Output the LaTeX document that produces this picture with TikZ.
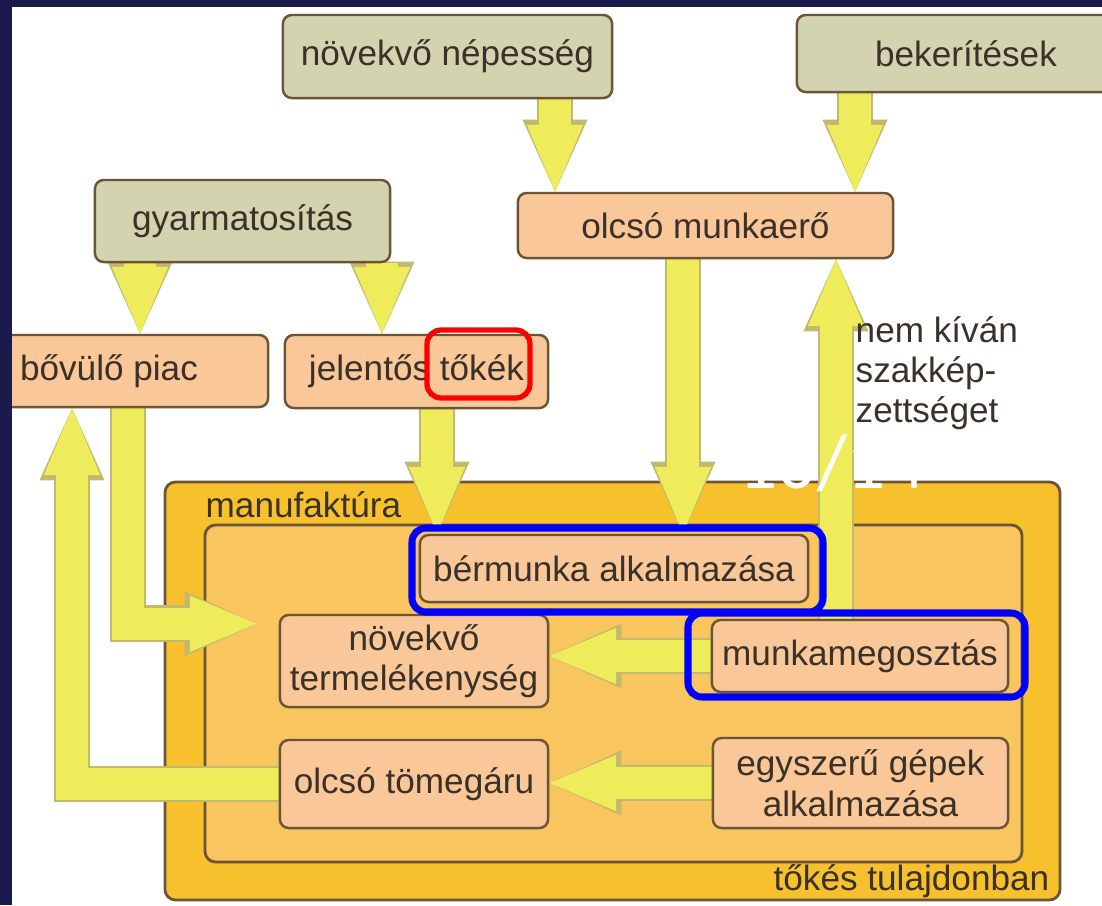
\documentclass[tikz,border=0pt]{standalone}
\usepackage{fontspec}
\setmainfont{Liberation Sans}
\newfontfamily\slidefont{Carlito}
\usepackage{xcolor}
\usetikzlibrary{calc, positioning, arrows.meta, backgrounds}

\definecolor{navy}{HTML}{1B1A4C}
\definecolor{sage}{HTML}{D3D3AF}
\definecolor{peach}{HTML}{F9C798}
\definecolor{gold}{HTML}{F6C12C}
\definecolor{goldin}{HTML}{F8C55E}
\definecolor{boxline}{HTML}{6B5536}
\definecolor{arrowyel}{HTML}{EFEC5C}
\definecolor{arrowedge}{HTML}{C2B86E}
\definecolor{txt}{HTML}{3A3229}

\begin{document}
\begin{tikzpicture}[x=0.01cm,y=-0.01cm,
  main node/.style={draw=boxline,line width=0.7pt,rounded corners=2.5pt,fill=peach,text=txt,
                    font=\fontsize{10}{11.5}\selectfont,align=center,inner sep=0pt},
  grey node/.style={main node,fill=sage},
  plain text/.style={text=txt,font=\fontsize{10}{11.4}\selectfont,inner sep=0pt},
  fat arrow/.style={draw=arrowyel,line width=9pt,-{Triangle[length=19pt,width=16pt,line width=0pt]},
                    preaction={draw=arrowedge,line width=10.4pt,-{Triangle[length=20.5pt,width=18.5pt,line width=0pt]}}},
  mark box/.style={line width=2pt,rounded corners=4pt}]
\useasboundingbox (0,0) rectangle (1102,905);
%manufaktura frame
\begin{scope}[on background layer]
  \fill[white] (0,0) rectangle (1102,905);
  \draw[boxline,line width=0.8pt,fill=gold,rounded corners=3pt] (165,482) rectangle (1060,900);
  \draw[boxline,line width=0.8pt,fill=goldin,rounded corners=3pt] (205,525) rectangle (1022,862);
\end{scope}
\node[plain text,anchor=base west] (manuf) at (205,517) {manufaktúra};
\node[plain text,anchor=base east] (tokes) at (1050,890) {tőkés tulajdonban};
%top row
\node[grey node,minimum width=3.29cm,minimum height=0.83cm] (nep) at (447.5,56.5) {növekvő népesség};
\node[grey node,minimum width=3.38cm,minimum height=0.77cm] (bek) at (966,53.5) {bekerítések};
\node[grey node,minimum width=2.95cm,minimum height=0.82cm] (gyar) at (242.5,221) {gyarmatosítás};
\node[main node,minimum width=3.75cm,minimum height=0.65cm] (munk) at (705.5,225.5) {olcsó munkaerő};
\node[main node,minimum width=3.18cm,minimum height=0.72cm] (piac) at (109,371) {bővülő piac};
\node[main node,minimum width=2.63cm,minimum height=0.73cm] (tok) at (416.5,371.5) {jelentős tőkék};
\node[plain text,anchor=north west,align=left] (nemk) at (855,316) {nem kíván\\szakkép-\\zettséget};
%inside
\node[main node,minimum width=3.88cm,minimum height=0.67cm] (berm) at (614,568.5) {bérmunka alkalmazása};
\node[main node,minimum width=2.68cm,minimum height=0.92cm] (term) at (414,661) {növekvő\\termelékenység};
\node[main node,minimum width=2.96cm,minimum height=0.72cm] (megoszt) at (860,656) {munkamegosztás};
\node[main node,minimum width=2.68cm,minimum height=0.88cm] (tomeg) at (414,784) {olcsó tömegáru};
\node[main node,minimum width=2.95cm,minimum height=0.90cm] (gepek) at (860.5,783) {egyszerű gépek\\alkalmazása};
%arrow lanes
\coordinate (xa) at (140,0);
\coordinate (xb) at (382,0);
\coordinate (xc) at (555,0);
\coordinate (xd) at (855,0);
\coordinate (xe) at (437,0);
\coordinate (xf) at (683,0);
\coordinate (xg) at (836,0);
\coordinate (xh) at (128,0);
\coordinate (xi) at (72,0);
\begin{scope}[on background layer]
  \draw[fat arrow] (nep.south -| xc) -- (munk.north -| xc);
  \draw[fat arrow] (bek.south -| xd) -- (munk.north -| xd);
  \draw[fat arrow] (gyar.south -| xa) -- (piac.north -| xa);
  \draw[fat arrow] (gyar.south -| xb) -- (tok.north -| xb);
  \draw[fat arrow] (tok.south -| xe) -- (berm.north -| xe);
  \draw[fat arrow] (munk.south -| xf) -- (berm.north -| xf);
  \draw[fat arrow] (megoszt.north -| xg) -- (munk.south -| xg);
  \draw[fat arrow] (piac.south -| xh) |- ($(term.north west)+(-22,10)$);
  \draw[fat arrow] (tomeg.west) -| (piac.south -| xi);
  \draw[fat arrow] (megoszt.west) -- (megoszt.west -| term.east);
  \draw[fat arrow] (gepek.west) -- (gepek.west -| tomeg.east);
\end{scope}
%highlights
\draw[mark box,red,line width=1.5pt] (427,330) rectangle (530,398);
\draw[mark box,blue] (412,528) rectangle (823,612);
\draw[mark box,blue] (688,613) rectangle (1025,697);
\node[white,font=\slidefont\fontsize{22}{22}\selectfont,anchor=base,inner sep=0pt] (slide) at (832,488) {10/14};
%frame
\fill[navy] (0,0) rectangle (12,905);
\fill[navy] (0,0) rectangle (1102,7);
\end{tikzpicture}
\end{document}
